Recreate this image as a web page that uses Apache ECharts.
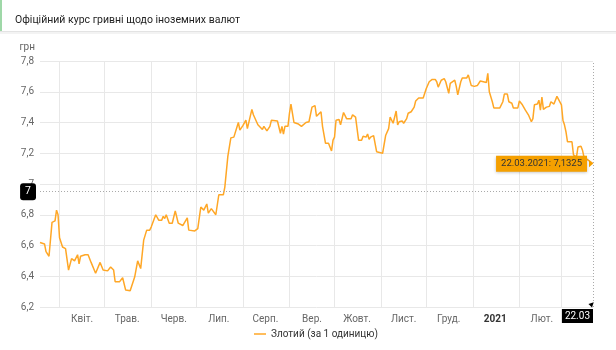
<!DOCTYPE html>
<html><head><meta charset="utf-8">
<script src="https://cdn.jsdelivr.net/npm/echarts@6/dist/echarts.min.js"></script>
<style>html,body{margin:0;padding:0;background:#fff}#c{width:616px;height:350px}</style>
</head><body><div id="c"></div>
<script>
const titleText = 'Офіційний курс гривні щодо іноземних валют';
const unitName = 'грн';
const seriesName = 'Злотий (за 1 одиницю)';
const startDate = '2020-03-19';
const endDate = '2021-03-22';
const dates = [
'2020-03-19','2020-03-20','2020-03-22','2020-03-23','2020-03-24','2020-03-25','2020-03-27','2020-03-29','2020-03-30','2020-03-31',
'2020-04-01','2020-04-03','2020-04-04','2020-04-05','2020-04-07','2020-04-09','2020-04-11','2020-04-13','2020-04-14','2020-04-15',
'2020-04-18','2020-04-20','2020-04-22','2020-04-25','2020-04-26','2020-04-28','2020-04-30',
'2020-05-03','2020-05-05','2020-05-07','2020-05-08','2020-05-11','2020-05-13','2020-05-15','2020-05-18','2020-05-21','2020-05-23',
'2020-05-24','2020-05-25','2020-05-27','2020-05-29','2020-05-31',
'2020-06-01','2020-06-04','2020-06-06','2020-06-08','2020-06-09','2020-06-10','2020-06-11','2020-06-13','2020-06-15','2020-06-17',
'2020-06-19','2020-06-22','2020-06-23','2020-06-25','2020-06-26','2020-06-30',
'2020-07-02','2020-07-04','2020-07-05','2020-07-06','2020-07-08','2020-07-09','2020-07-11','2020-07-12','2020-07-14','2020-07-16',
'2020-07-17','2020-07-19','2020-07-20','2020-07-22','2020-07-24','2020-07-26','2020-07-29','2020-07-30',
'2020-08-01','2020-08-02','2020-08-03','2020-08-04','2020-08-07','2020-08-08','2020-08-11','2020-08-12','2020-08-14','2020-08-15',
'2020-08-17','2020-08-19','2020-08-20','2020-08-24','2020-08-25','2020-08-26','2020-08-27','2020-08-28','2020-08-29','2020-08-31',
'2020-09-01','2020-09-02','2020-09-03','2020-09-04','2020-09-07','2020-09-09','2020-09-10','2020-09-12','2020-09-14','2020-09-16',
'2020-09-18','2020-09-19','2020-09-20','2020-09-22','2020-09-23','2020-09-25','2020-09-26','2020-09-27','2020-09-29','2020-09-30',
'2020-10-01','2020-10-02','2020-10-04','2020-10-05','2020-10-07','2020-10-09','2020-10-12','2020-10-13','2020-10-15','2020-10-16',
'2020-10-17','2020-10-19','2020-10-20','2020-10-22','2020-10-23','2020-10-24','2020-10-25','2020-10-27','2020-10-28','2020-10-29',
'2020-11-02','2020-11-03','2020-11-04','2020-11-06','2020-11-07','2020-11-08','2020-11-09','2020-11-11','2020-11-12','2020-11-13',
'2020-11-15','2020-11-16','2020-11-18','2020-11-19','2020-11-21','2020-11-23','2020-11-24','2020-11-26','2020-11-29',
'2020-12-01','2020-12-03','2020-12-05','2020-12-07','2020-12-08','2020-12-09','2020-12-11','2020-12-13','2020-12-14','2020-12-16',
'2020-12-17','2020-12-20','2020-12-21','2020-12-22','2020-12-24','2020-12-25','2020-12-28','2020-12-29','2020-12-31',
'2021-01-02','2021-01-04','2021-01-06','2021-01-07','2021-01-10','2021-01-11','2021-01-12','2021-01-14','2021-01-15','2021-01-17',
'2021-01-19','2021-01-21','2021-01-22','2021-01-24','2021-01-25','2021-01-27','2021-01-28','2021-01-31',
'2021-02-01','2021-02-03','2021-02-04','2021-02-05','2021-02-07','2021-02-09','2021-02-10','2021-02-11','2021-02-13','2021-02-14',
'2021-02-15','2021-02-16','2021-02-17','2021-02-19','2021-02-21','2021-02-22','2021-02-24','2021-02-26','2021-02-27',
'2021-03-01','2021-03-02','2021-03-03','2021-03-04','2021-03-05','2021-03-08','2021-03-09','2021-03-11','2021-03-12','2021-03-14',
'2021-03-15','2021-03-16','2021-03-22'
];
const values = [
6.62,6.61,6.61,6.56,6.55,6.53,6.75,6.76,6.83,6.80,
6.65,6.59,6.58,6.58,6.44,6.515,6.50,6.54,6.48,6.53,
6.54,6.54,6.49,6.42,6.42,6.49,6.44,
6.435,6.46,6.44,6.365,6.365,6.39,6.31,6.305,6.395,6.50,
6.50,6.45,6.635,6.70,6.70,
6.72,6.80,6.765,6.765,6.79,6.775,6.80,6.745,6.745,6.825,
6.745,6.73,6.72,6.78,6.70,6.695,
6.71,6.85,6.855,6.83,6.87,6.81,6.84,6.84,6.80,6.93,
6.935,6.93,6.98,7.18,7.30,7.305,7.40,7.35,
7.38,7.385,7.415,7.36,7.485,7.45,7.385,7.395,7.355,7.375,
7.345,7.375,7.415,7.41,7.405,7.33,7.375,7.325,7.375,7.375,
7.46,7.52,7.46,7.40,7.39,7.375,7.37,7.40,7.405,7.50,
7.51,7.44,7.44,7.47,7.375,7.265,7.255,7.265,7.215,7.285,
7.305,7.415,7.42,7.385,7.465,7.425,7.425,7.45,7.435,7.44,
7.285,7.285,7.31,7.305,7.325,7.29,7.305,7.315,7.315,7.21,
7.20,7.205,7.315,7.36,7.435,7.425,7.395,7.475,7.385,7.405,
7.41,7.395,7.425,7.46,7.47,7.50,7.54,7.56,7.56,
7.62,7.665,7.68,7.68,7.665,7.63,7.675,7.685,7.665,7.59,
7.655,7.675,7.635,7.58,7.665,7.69,7.69,7.71,7.64,
7.635,7.64,7.67,7.66,7.66,7.72,7.60,7.535,7.495,7.495,
7.495,7.535,7.585,7.585,7.535,7.525,7.495,7.495,
7.54,7.515,7.51,7.48,7.45,7.405,7.425,7.515,7.52,7.545,
7.48,7.565,7.485,7.50,7.505,7.535,7.52,7.57,7.575,
7.515,7.415,7.385,7.34,7.275,7.275,7.19,7.175,7.24,7.245,
7.22,7.175,7.1325
];
const monthStarts = ['2020-04-01','2020-05-01','2020-06-01','2020-07-01','2020-08-01','2020-09-01','2020-10-01','2020-11-01','2020-12-01','2021-01-01','2021-02-01','2021-03-01'];
const labelDates = ['2020-04-16','2020-05-16','2020-06-16','2020-07-16','2020-08-16','2020-09-16','2020-10-16','2020-11-16','2020-12-16','2021-01-16','2021-02-16'];
const monthLabels = ['Квіт.','Трав.','Черв.','Лип.','Серп.','Вер.','Жовт.','Лист.','Груд.','2021','Лют.'];
const yMin = 6.2, yMax = 7.8, yStep = 0.2;
const crossValue = 6.95;
const crossXLabel = '22.03';
const tipText = '22.03.2021: 7,1325';

const ts = s => { const [y, m, d] = s.split('-').map(Number); return Date.UTC(y, m - 1, d); };
const labelMap = new Map(labelDates.map((d, i) => [ts(d), monthLabels[i]]));
const data = dates.map((d, i) => [ts(d), values[i]]);
const last = data[data.length - 1];
const FONT = "Roboto, sans-serif";

const chart = echarts.init(document.getElementById('c'), null, {renderer: 'canvas'});
chart.setOption({
  animation: false,
  backgroundColor: '#fff',
  textStyle: {fontFamily: FONT},
  title: {text: titleText, left: 10, top: 10, textStyle: {fontSize: 10.5, fontWeight: 'normal', color: '#222', fontFamily: FONT}},
  graphic: [
    {type: 'rect', left: 0, top: 0, shape: {width: 2, height: 31}, style: {fill: '#9fd8a8'}},
    {type: 'rect', left: 0, top: 31, shape: {width: 616, height: 1}, style: {fill: '#e3e3e3'}},
    {type: 'rect', left: 0, top: 32, shape: {width: 616, height: 2}, style: {fill: '#f3f3f3'}}
  ],
  legend: {
    bottom: 6, left: 249, icon: 'rect', itemWidth: 12, itemHeight: 1.5, itemGap: 6,
    textStyle: {fontSize: 10, color: '#333', fontFamily: FONT},
    data: [seriesName]
  },
  grid: {left: 40, right: 23, top: 61, bottom: 43},
  xAxis: {
    type: 'value', min: ts(startDate), max: ts(endDate),
    axisLine: {show: false},
    axisTick: {show: false, customValues: monthStarts.map(ts)},
    splitLine: {show: true, lineStyle: {color: '#e8e8e8', width: 1}},
    axisLabel: {
      customValues: labelDates.map(ts), margin: 7,
      fontSize: 10, color: '#666', fontFamily: FONT,
      formatter: v => { const t = labelMap.get(v) || ''; return t === '2021' ? '{b|2021}' : t; },
      rich: {b: {fontWeight: 'bold', color: '#333', fontSize: 10, fontFamily: FONT}}
    },
    axisPointer: {show: true, status: 'show', value: last[0], type: 'line', triggerTooltip: false,
      lineStyle: {color: '#aaa', type: [1, 2], width: 1}, label: {show: false}}
  },
  yAxis: {
    type: 'value', min: yMin, max: yMax, interval: yStep,
    name: unitName, nameLocation: 'end', nameGap: 9,
    nameTextStyle: {align: 'right', color: '#666', fontSize: 10, padding: [0, 5, 0, 0], fontFamily: FONT},
    axisLine: {show: false}, axisTick: {show: false},
    splitLine: {lineStyle: {color: '#e8e8e8', width: 1}},
    axisLabel: {fontSize: 10, color: '#666', margin: 6, fontFamily: FONT,
      formatter: v => String(Math.round(v * 10) / 10).replace('.', ',')},
    axisPointer: {show: true, status: 'show', value: crossValue, type: 'line', triggerTooltip: false,
      lineStyle: {color: '#aaa', type: [1, 2], width: 1},
      label: {show: true, formatter: p => String(Math.round(p.value)), backgroundColor: '#000', color: '#fff',
        padding: [3, 5], fontSize: 10.5, margin: 4, fontFamily: FONT}}
  },
  series: [{
    name: seriesName, type: 'line', data: data, showSymbol: false, symbol: 'none',
    lineStyle: {color: '#ffa726', width: 1.5}, itemStyle: {color: '#ffa726'},
    markPoint: {
      silent: true, animation: false,
      data: [
        {coord: last, symbol: 'triangle', symbolRotate: -90, symbolSize: [7, 4], symbolOffset: [-2, 0],
          itemStyle: {color: '#f5a000'},
          label: {show: true, position: 'inside', align: 'right', offset: [-4, 0], formatter: tipText,
            backgroundColor: '#f5a000', color: '#333', fontSize: 9.5, padding: [3, 5], fontFamily: FONT,
            shadowColor: 'rgba(0,0,0,0.25)', shadowBlur: 3, shadowOffsetY: 1}},
        {coord: [last[0], yMin], symbol: 'triangle', symbolSize: [5, 5], symbolOffset: [-1, -3], symbolRotate: -45,
          itemStyle: {color: '#000'},
          label: {show: true, position: 'inside', align: 'right', verticalAlign: 'top', offset: [1, 5], formatter: crossXLabel,
            backgroundColor: '#000', color: '#fff', fontSize: 10, padding: [2, 3], fontFamily: FONT}}
      ]
    }
  }]
});
</script></body></html>
